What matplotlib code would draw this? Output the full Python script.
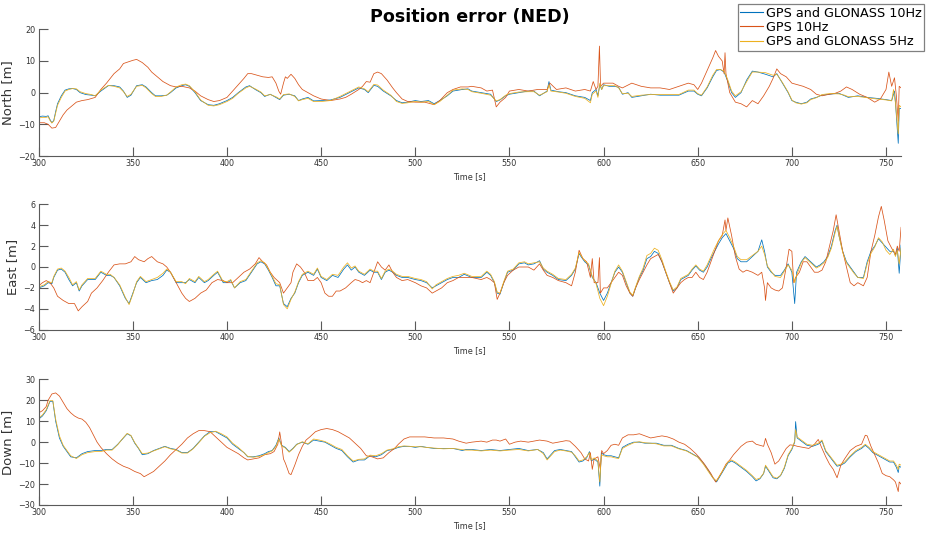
import matplotlib
matplotlib.use("Agg")
import matplotlib.pyplot as plt

# ---------------------------------------------------------------------------
# Position error samples, (time [s], error [m])
# ---------------------------------------------------------------------------
NORTH_GG10 = [(300,-7.6),(302,-7.4),(304,-7.5),(305,-7.3),(306,-8.5),(307,-9.5),(308,-8.8),(309,-6),(310,-3.5),(312,-1),(314,0.8),(316,1.2),(318,1.3),(320,1.0),(322,0),(325,-0.6),(328,-0.8),(330,-1.0),(333,0.5),(337,2.2),(340,2.2),(343,1.8),(345,0.5),(347,-1.5),(349,-0.8),(352,2.2),(355,2.5),(357,1.8),(360,0),(362,-1.0),(365,-1.0),(368,-0.8),(370,0),(373,1.5),(376,2.2),(378,2.5),(380,2.0),(383,0),(386,-2.5),(390,-3.8),(393,-4.0),(396,-3.5),(400,-2.5),(403,-1.5),(406,0),(410,1.8),(412,2.2),(415,1.0),(418,0),(420,-1.2),(423,-0.5),(426,-1.5),(428,-2.2),(430,-0.8),(433,-0.5),(436,-1.0),(438,-2.5),(440,-2.0),(443,-1.5),(446,-2.6),(450,-2.5),(455,-2.3),(460,-1.5),(465,0),(470,1.5),(473,1.0),(475,0),(478,2.3),(480,2.0),(483,0.5),(487,-1.0),(490,-2.5),(493,-3.2),(496,-3.0),(500,-2.5),(503,-2.8),(507,-2.5),(510,-3.5),(513,-2.5),(517,-1.0),(520,0.5),(525,1.0),(528,1.2),(530,0.5),(535,0),(540,-0.5),(543,-2.8),(545,-2.3),(548,-1.0),(550,-0.5),(555,0),(560,0.5),(563,0.5),(566,-1.0),(570,0.5),(571,3.5),(572,0.8),(576,0.3),(580,0),(585,-1.0),(590,-1.5),(593,-2.5),(594,0),(596,1.0),(597,-1.0),(598,2.5),(599,1.0),(600,2.5),(603,2.0),(606,2.0),(608,1.7),(610,-0.5),(613,0),(615,-1.5),(620,-1.0),(625,-0.5),(630,-0.8),(635,-0.8),(640,-0.8),(645,0.5),(648,0.5),(650,-0.5),(652,-1.0),(655,1.5),(658,5.0),(660,7.0),(662,7.3),(664,6.5),(666,3.5),(668,0),(670,-1.5),(673,0),(676,4.0),(679,6.8),(682,6.5),(686,5.8),(690,5.0),(692,6.0),(695,3.0),(698,0),(700,-2.5),(702,-3.0),(705,-3.5),(708,-3.0),(710,-2.0),(713,-1.5),(716,-0.8),(720,-0.5),(725,-0.2),(728,-1.0),(730,-1.5),(735,-1.0),(740,-1.5),(745,-1.8),(750,-2.2),(753,-2.5),(754.5,0.5),(755,-3.0),(756.5,-16.0),(757,-5.0),(758,-5.0)]

NORTH_GPS10 = [(300,-9.5),(303,-9.5),(305,-10.0),(307,-11.2),(309,-11.0),(311,-9.0),(313,-7.0),(315,-5.5),(318,-4.0),(320,-3.0),(323,-2.5),(326,-2.2),(330,-1.5),(333,1.0),(336,3.0),(340,6.0),(343,7.5),(345,9.2),(348,9.8),(350,10.2),(352,10.5),(355,9.5),(358,8.0),(360,6.5),(363,5.0),(366,3.5),(370,2.2),(373,1.8),(376,2.0),(380,1.5),(383,0.5),(386,-1.0),(390,-2.2),(393,-2.8),(396,-2.5),(400,-1.5),(403,0.5),(406,2.5),(409,4.5),(411,6.0),(413,6.0),(416,5.5),(419,5.0),(422,4.8),(424,5.0),(426,3.0),(427.5,0.5),(428.5,-0.5),(430,3.0),(431,5.0),(432,4.5),(434,5.8),(436,4.5),(438,2.5),(440,1.0),(443,0),(446,-1.0),(450,-2.0),(455,-2.5),(460,-2.0),(463,-1.5),(466,-0.5),(470,1.0),(472,2.0),(474,3.5),(476,3.3),(478,6.0),(480,6.5),(482,6.0),(485,4.0),(488,1.5),(490,0),(493,-2.0),(496,-2.8),(500,-3.0),(505,-3.0),(510,-3.8),(513,-2.5),(517,0),(520,1.0),(524,1.8),(528,1.8),(530,2.0),(535,1.5),(538,0.5),(541,0.8),(543,-4.5),(545,-3.0),(548,-1.5),(550,0.5),(555,1.0),(560,0.5),(565,1.0),(570,1.0),(571.5,3.0),(575,1.0),(580,1.5),(585,0.5),(590,1.0),(593,0.5),(594.5,3.5),(596,1.0),(597,2.0),(597.8,14.7),(598.4,2.0),(600,3.0),(605,3.0),(608,2.0),(610,1.5),(615,3.0),(620,2.0),(625,1.5),(630,1.5),(635,1.0),(640,2.0),(645,3.0),(648,2.5),(650,1.0),(652,3.0),(655,7.0),(658,11.0),(659.5,13.3),(661,11.5),(663,10.0),(664,6.0),(664.5,12.6),(665,6.0),(667,0),(670,-3.0),(673,-3.5),(676,-4.5),(679,-2.5),(682,-3.5),(685,-1.0),(688,2.0),(690,4.5),(692,7.5),(694,6.0),(697,5.0),(700,3.0),(703,2.5),(706,2.0),(710,1.0),(713,-0.5),(716,-1.0),(720,-0.5),(723,-0.2),(726,0.5),(729,1.8),(732,1.0),(736,-0.5),(740,-1.5),(744,-3.0),(747,-2.0),(750,1.0),(751.5,6.5),(753,2.0),(754.5,4.7),(755.5,-1.0),(756.5,-9.0),(757,2.0),(758,1.5)]

NORTH_GG5 = [(300,-8.0),(302,-7.8),(304,-7.8),(305,-7.6),(306,-8.8),(307,-9.6),(308,-9.0),(309,-6.5),(310,-4),(312,-1.5),(314,0.5),(316,1.0),(318,1.3),(320,1.2),(322,0.3),(325,-0.3),(328,-0.6),(330,-1.0),(333,0.8),(337,2.3),(340,2.0),(343,1.5),(345,0.3),(347,-1.2),(349,-0.5),(352,2.0),(355,2.3),(357,1.5),(360,-0.3),(362,-1.2),(365,-1.2),(368,-0.8),(370,0.2),(373,1.8),(376,2.5),(378,2.7),(380,2.2),(383,0.3),(386,-2.3),(390,-4.0),(393,-4.2),(396,-3.8),(400,-2.8),(403,-1.8),(406,-0.2),(410,1.5),(412,2.0),(415,1.2),(418,0.2),(420,-1.0),(423,-0.6),(426,-1.3),(428,-2.0),(430,-0.6),(433,-0.4),(436,-1.2),(438,-2.6),(440,-2.2),(443,-1.8),(446,-2.8),(450,-2.8),(455,-2.5),(460,-1.2),(465,0.3),(470,1.8),(473,1.2),(475,0.3),(478,2.6),(480,2.4),(483,0.8),(487,-0.8),(490,-2.8),(493,-3.4),(496,-3.2),(500,-2.8),(503,-3.0),(507,-2.8),(510,-3.8),(513,-2.8),(517,-0.8),(520,0.8),(525,1.2),(528,1.0),(530,0.3),(535,-0.2),(540,-0.8),(543,-2.6),(545,-2.2),(548,-0.8),(550,-0.3),(555,0.2),(560,0.3),(563,0.3),(566,-0.8),(570,0.3),(571,2.5),(572,0.5),(576,0.2),(580,-0.2),(585,-1.2),(590,-1.8),(593,-3.2),(594,-0.5),(596,0.5),(597,-1.5),(598,3.0),(599,1.0),(600,2.2),(603,2.2),(606,2.2),(608,1.5),(610,-0.3),(613,-0.2),(615,-1.2),(620,-0.8),(625,-0.6),(630,-0.6),(635,-0.6),(640,-0.6),(645,0.8),(648,0.8),(650,-0.3),(652,-0.8),(655,1.8),(658,5.5),(660,7.3),(662,7.3),(664,6.8),(666,4.0),(668,0.5),(670,-1.0),(673,0.3),(676,3.5),(679,6.5),(682,6.5),(686,6.3),(690,5.5),(692,5.8),(695,3.2),(698,0.2),(700,-2.3),(702,-3.2),(705,-3.6),(708,-3.2),(710,-2.2),(713,-1.6),(716,-0.6),(720,-0.3),(725,-0.4),(728,-0.8),(730,-1.3),(735,-1.2),(740,-1.6),(745,-2.0),(750,-2.3),(753,-2.6),(754,1.0),(755,-3.2),(756.5,-13.0),(757,-4.0),(758,-4.5)]

EAST_GG10 = [(300,-2.0),(303,-1.8),(305,-1.5),(307,-1.6),(308,-1.0),(310,-0.3),(312,-0.2),(314,-0.5),(316,-1.2),(318,-1.8),(320,-1.5),(321.5,-2.3),(323,-1.8),(326,-1.2),(330,-1.2),(333,-0.5),(336,-0.8),(338,-0.8),(340,-1.0),(343,-1.8),(346,-3.0),(348,-3.5),(350,-2.5),(352,-1.5),(354,-1.0),(357,-1.5),(360,-1.3),(363,-1.2),(366,-0.8),(368,-0.3),(370,-0.5),(373,-1.5),(376,-1.5),(378,-1.5),(380,-1.2),(383,-1.5),(385,-1.0),(388,-1.5),(390,-1.3),(393,-0.8),(395,-0.5),(398,-1.5),(400,-1.5),(402,-1.3),(404,-2.0),(407,-1.5),(410,-1.3),(413,-0.5),(416,0.3),(418,0.5),(420,0.3),(422,-0.3),(424,-1.0),(426,-1.8),(428,-1.8),(430,-3.5),(432,-3.8),(434,-3.0),(436,-2.5),(438,-1.5),(440,-0.8),(443,-0.5),(446,-0.8),(448,-0.2),(450,-1.0),(453,-1.3),(456,-0.8),(459,-1.0),(462,-0.2),(464,0.2),(466,-0.3),(468,0),(470,-0.5),(473,-0.8),(476,-0.3),(478,-0.5),(480,-0.5),(482,-1.2),(484,-0.5),(486,-0.3),(488,-0.5),(490,-0.8),(493,-1.0),(496,-1.0),(500,-1.2),(503,-1.3),(506,-1.5),(509,-2.0),(511,-1.8),(514,-1.5),(517,-1.2),(520,-1.0),(523,-1.0),(526,-0.7),(530,-1.0),(535,-1.0),(538,-0.5),(540,-0.8),(542,-1.5),(543.5,-2.5),(545,-2.6),(547,-1.5),(549,-0.5),(552,-0.3),(555,0.3),(558,0.4),(560,0.2),(563,0.3),(566,0.6),(568,-0.2),(570,-0.5),(573,-0.8),(576,-1.2),(580,-1.3),(583,-0.8),(585,-0.2),(587,1.3),(588,1.0),(590,0.5),(592,0.2),(594,-1.0),(596,-1.5),(598,-2.5),(600,-3.2),(602,-2.5),(604,-1.5),(606,-0.5),(608,0),(610,-0.5),(612,-1.5),(614,-2.5),(615.5,-2.8),(617,-2.0),(619,-1.0),(621,-0.3),(623,0.8),(625,1.0),(627,1.5),(629,1.3),(631,0.5),(633,-0.5),(635,-1.5),(637,-2.3),(639,-2.0),(641,-1.2),(643,-1.0),(645,-0.8),(647,-0.3),(649,0.1),(651,-0.3),(653,-0.5),(655,0),(657,0.8),(659,1.5),(661,2.2),(663,2.8),(665,3.2),(667,2.5),(669,1.8),(671,0.8),(673,0.5),(676,0.5),(679,1.0),(682,1.5),(684,2.6),(685.5,1.5),(687,0),(689,-0.5),(691,-0.8),(694,-0.8),(696,-0.3),(698,0.3),(700,-0.5),(701.5,-3.5),(702.5,-0.5),(705,0.5),(707,1.0),(710,0.5),(713,0),(715,0.2),(717,0.5),(719,1.0),(721,2.0),(723,3.5),(724,4.0),(725,3.0),(727,1.5),(729,0.5),(731,0),(733,-0.5),(735,-1.0),(738,-1.0),(740,0.5),(742,1.5),(744,2.0),(746,2.7),(748,2.3),(750,1.9),(752,1.5),(754,1.5),(755,1.1),(756,1.8),(757,-0.6),(758,2.1)]

EAST_GPS10 = [(300,-1.8),(302,-1.5),(304,-1.3),(306,-1.5),(308,-2.0),(310,-2.8),(313,-3.2),(316,-3.5),(319,-3.5),(321,-4.2),(323,-3.8),(326,-3.3),(328,-2.5),(331,-2.0),(334,-1.3),(337,-0.5),(340,0.2),(343,0.3),(346,0.3),(349,0.5),(351,1.0),(353,0.7),(356,0.5),(358,0.8),(360,1.0),(363,0.5),(366,0.3),(368,0),(370,-0.5),(373,-1.5),(376,-2.5),(378,-3.0),(380,-3.3),(383,-3.0),(386,-2.5),(389,-2.2),(392,-1.5),(395,-1.2),(398,-1.3),(400,-1.5),(403,-1.5),(406,-1.0),(409,-0.5),(412,-0.2),(415,0.3),(417,0.9),(419,0.5),(421,0.2),(423,-0.5),(425,-1.0),(428,-1.5),(430,-2.5),(432,-2.0),(434,-1.5),(435,-0.5),(437,0.3),(439,0),(441,-0.5),(443,-1.3),(446,-1.3),(448,-1.0),(450,-1.5),(452,-2.5),(454,-2.8),(456,-2.8),(458,-2.3),(460,-2.3),(463,-2.0),(466,-1.5),(468,-1.2),(470,-1.3),(472,-1.5),(474,-1.3),(476,-1.5),(478,-0.5),(480,0.5),(482,0),(484,-0.3),(486,0.2),(488,-0.5),(490,-1.0),(493,-1.3),(496,-1.2),(500,-1.5),(503,-1.8),(506,-2.0),(509,-2.5),(511,-2.3),(514,-2.0),(517,-1.5),(520,-1.3),(523,-1.0),(527,-1.0),(530,-1.0),(535,-1.2),(538,-1.0),(540,-1.2),(542,-1.5),(543.5,-3.1),(545,-2.5),(547,-1.5),(549,-0.8),(552,-0.3),(555,0),(558,0),(560,0),(563,-0.3),(566,0.3),(568,-0.3),(570,-0.8),(573,-1.0),(576,-1.3),(580,-1.5),(583,-1.8),(585,-0.5),(587,1.6),(589,0.8),(591,0.5),(593,-1.0),(594,0.8),(595,-1.5),(597,-1.5),(597.8,0.9),(598.3,-2.5),(600,-2.0),(602,-2.0),(604,-1.5),(606,-1.0),(608,-0.5),(610,-0.8),(612,-1.8),(614,-2.5),(615.5,-2.8),(617,-2.0),(619,-1.2),(621,-0.5),(623,0.2),(625,0.8),(627,1.0),(629,1.2),(631,0.5),(633,-0.5),(635,-1.5),(637,-2.5),(639,-2.0),(641,-1.5),(643,-1.2),(645,-1.0),(647,-1.0),(649,-0.5),(651,-1.0),(653,-1.2),(655,-0.5),(657,0.5),(659,1.5),(661,2.5),(663,3.0),(664.5,4.5),(665,3.5),(666,4.7),(668,3.0),(670,1.0),(672,-0.2),(674,-0.5),(676,-0.3),(679,-0.5),(682,-0.8),(684,-0.5),(685.5,-2.0),(686,-3.2),(687,-1.5),(689,-2.0),(691,-2.2),(693,-2.3),(695,-2.0),(697,0),(698.5,1.7),(700,1.5),(701,-1.5),(702,-1.0),(704,-0.5),(706,0.5),(708,0.5),(710,0),(712,-0.5),(714,-0.5),(716,-0.3),(718,0.5),(720,2.0),(722,3.5),(723.5,5.0),(725,3.5),(727,1.5),(729,0),(731,-1.5),(733,-1.8),(735,-1.5),(738,-1.8),(740,-1.0),(742,1.5),(744,3.0),(746,4.8),(747.5,5.8),(749,4.5),(751,2.5),(753,1.8),(755,1.2),(756,2.0),(757,1.5),(758,3.8)]

EAST_GG5 = [(300,-1.9),(303,-1.7),(305,-1.4),(307,-1.5),(308,-0.9),(310,-0.2),(312,-0.1),(314,-0.4),(316,-1.0),(318,-1.7),(320,-1.4),(321.5,-2.2),(323,-1.7),(326,-1.1),(330,-1.1),(333,-0.4),(336,-0.7),(338,-0.7),(340,-1.0),(343,-1.7),(346,-2.9),(348,-3.6),(350,-2.6),(352,-1.4),(354,-0.9),(357,-1.4),(360,-1.2),(363,-1.0),(366,-0.6),(368,-0.2),(370,-0.5),(373,-1.4),(376,-1.4),(378,-1.6),(380,-1.1),(383,-1.4),(385,-0.9),(388,-1.4),(390,-1.2),(393,-0.7),(395,-0.4),(398,-1.4),(400,-1.4),(402,-1.2),(404,-2.0),(407,-1.4),(410,-1.2),(413,-0.4),(416,0.4),(418,0.6),(420,0.4),(422,-0.2),(424,-0.9),(426,-1.6),(428,-1.7),(430,-3.6),(432,-4.0),(434,-3.1),(436,-2.4),(438,-1.4),(440,-0.7),(443,-0.4),(446,-0.7),(448,-0.1),(450,-0.9),(453,-1.2),(456,-0.7),(459,-0.8),(462,0),(464,0.4),(466,-0.1),(468,0.1),(470,-0.4),(473,-0.7),(476,-0.2),(478,-0.4),(480,-0.4),(482,-1.1),(484,-0.4),(486,-0.2),(488,-0.4),(490,-0.7),(493,-0.9),(496,-0.9),(500,-1.1),(503,-1.2),(506,-1.4),(509,-2.1),(511,-1.7),(514,-1.4),(517,-1.1),(520,-0.9),(523,-0.8),(526,-0.6),(530,-0.9),(535,-0.9),(538,-0.4),(540,-0.7),(542,-1.4),(543.5,-2.4),(545,-2.5),(547,-1.4),(549,-0.4),(552,-0.2),(555,0.4),(558,0.5),(560,0.3),(563,0.4),(566,0.5),(568,-0.1),(570,-0.4),(573,-0.7),(576,-1.1),(580,-1.2),(583,-0.7),(585,-0.1),(587,1.4),(588,1.1),(590,0.6),(592,0.3),(594,-0.9),(596,-1.6),(598,-3.0),(600,-3.7),(602,-2.8),(604,-1.6),(606,-0.4),(608,0.2),(610,-0.4),(612,-1.4),(614,-2.4),(615.5,-2.7),(617,-1.9),(619,-0.9),(621,-0.1),(623,1.1),(625,1.3),(627,1.8),(629,1.6),(631,0.7),(633,-0.4),(635,-1.4),(637,-2.2),(639,-1.9),(641,-1.1),(643,-0.9),(645,-0.7),(647,-0.2),(649,0.2),(651,-0.2),(653,-0.4),(655,0.2),(657,1.0),(659,1.8),(661,2.5),(663,3.1),(665,3.5),(667,2.8),(669,2.0),(671,1.0),(673,0.7),(676,0.7),(679,1.1),(682,1.5),(684,2.0),(685.5,1.2),(687,0.1),(689,-0.4),(691,-0.9),(694,-1.0),(696,-0.4),(698,0.2),(700,-0.3),(701.5,-1.5),(702.5,-0.8),(705,0.4),(707,0.9),(710,0.4),(713,-0.1),(715,0.1),(717,0.4),(719,0.9),(721,1.8),(723,3.3),(724,3.9),(725,3.0),(727,1.4),(729,0.4),(731,-0.1),(733,-0.6),(735,-1.0),(738,-1.1),(740,0.3),(742,1.3),(744,1.9),(746,2.8),(748,2.4),(750,1.6),(752,1.2),(754,1.7),(755,1.0),(756,1.6),(757,0.3),(758,1.8)]

DOWN_GG10 = [(300,11.0),(302,12.5),(304,15.0),(306,19.5),(307.5,19.5),(309,10.0),(311,2.0),(313,-2.0),(315,-4.5),(317,-7.0),(320,-7.5),(323,-5.5),(326,-4.5),(330,-4.0),(333,-4.0),(336,-3.5),(339,-3.5),(342,-1.0),(345,2.0),(347,4.0),(349,3.0),(351,-0.5),(353,-3.0),(355,-6.0),(358,-5.5),(361,-4.0),(364,-3.0),(367,-2.0),(370,-3.0),(373,-3.5),(376,-5.0),(379,-5.0),(382,-3.0),(385,0),(388,3.0),(391,5.0),(394,5.0),(397,3.5),(400,2.0),(403,-1.0),(406,-3.0),(409,-5.0),(411,-7.0),(414,-7.0),(417,-6.5),(420,-5.5),(422,-4.5),(424,-4.0),(426,-1.5),(427.5,2.0),(429,-1.5),(431,-2.5),(433,-4.5),(435,-3.0),(437,-1.0),(440,0),(443,-1.0),(446,1.0),(449,0.5),(452,0),(455,-1.5),(458,-3.0),(461,-4.0),(464,-7.0),(467,-9.5),(470,-8.5),(473,-8.5),(476,-6.5),(479,-7.0),(482,-6.0),(485,-4.0),(488,-3.5),(491,-2.5),(494,-2.0),(497,-2.0),(500,-2.5),(503,-2.0),(506,-2.5),(510,-3.0),(515,-3.0),(520,-3.0),(525,-4.0),(527,-3.5),(530,-3.5),(535,-4.0),(540,-3.5),(545,-4.0),(550,-3.5),(555,-3.0),(560,-4.0),(565,-3.5),(568,-5.0),(570,-8.0),(572,-6.0),(574,-4.0),(577,-3.5),(580,-4.0),(583,-4.5),(585,-7.0),(587,-9.5),(589,-9.0),(591,-7.5),(592.5,-4.5),(593.5,-9.0),(595,-8.0),(597,-9.5),(598,-21.0),(598.8,-5.0),(600,-6.0),(602,-6.5),(604,-6.5),(606,-7.0),(608,-7.5),(610,-2.5),(613,-1.0),(616,0),(619,0),(622,-0.5),(625,-0.5),(628,-0.5),(632,-1.5),(636,-1.5),(640,-3.0),(644,-4.0),(648,-6.0),(650,-7.0),(653,-10.0),(656,-14.0),(658,-17.0),(660,-19.0),(662,-16.0),(664,-13.0),(666,-10.0),(668,-9.0),(670,-10.0),(673,-12.0),(676,-14.0),(679,-16.5),(681,-18.5),(683,-17.5),(685,-15.0),(686,-11.5),(687.5,-13.5),(690,-17.0),(692,-17.5),(694,-16.0),(696,-12.5),(698,-6.5),(700,-3.5),(701.5,0),(702,9.8),(702.8,2.0),(705,0.5),(708,-1.5),(711,-2.0),(714,-1.0),(716,0.5),(718,-4.5),(721,-8.0),(724,-11.5),(726,-11.0),(728,-10.0),(731,-7.0),(734,-4.5),(737,-3.0),(739,-1.5),(741,-3.0),(743,-5.0),(746,-6.5),(749,-8.0),(752,-9.5),(754,-9.5),(755.5,-12.0),(756.5,-14.5),(757,-11.5),(758,-12.0)]

DOWN_GPS10 = [(300,14.0),(302,15.0),(304,17.0),(305,20.0),(307,23.0),(309,23.5),(311,22.0),(313,19.0),(315,16.0),(317,14.0),(319,12.5),(321,11.5),(323,11.0),(325,9.5),(327,7.0),(329,3.5),(331,0),(333,-2.5),(336,-5.5),(339,-8.0),(342,-10.0),(345,-11.5),(348,-12.5),(351,-14.0),(354,-15.0),(356,-16.5),(358,-15.5),(361,-14.0),(364,-11.5),(367,-9.0),(370,-6.0),(373,-3.5),(376,-1.0),(379,2.0),(382,4.0),(385,5.5),(388,5.5),(391,5.0),(394,2.5),(397,0),(400,-2.5),(403,-4.0),(406,-5.5),(409,-7.5),(411,-8.5),(414,-8.0),(417,-7.5),(420,-6.0),(423,-5.5),(425,-4.5),(427,-1.0),(428,4.9),(429,-1.0),(430,-8.0),(431,-10.0),(433,-15.0),(434,-15.5),(436,-11.0),(438,-6.0),(440,-2.0),(442,1.0),(444,2.5),(447,5.0),(450,6.0),(453,6.5),(456,6.0),(459,5.0),(462,3.5),(465,2.0),(468,-0.5),(471,-3.0),(474,-6.5),(477,-7.0),(480,-8.0),(483,-7.5),(486,-5.0),(489,-3.0),(491,-1.0),(494,1.5),(497,2.5),(500,2.5),(505,2.5),(510,2.0),(515,2.0),(520,1.5),(523,0.5),(527,-0.5),(530,0),(535,0.5),(538,0),(541,1.0),(543,1.0),(545,0.5),(548,1.5),(550,-1.0),(553,0),(556,0.5),(560,0),(563,0.5),(566,1.0),(570,0.5),(573,-0.5),(576,0),(580,0.7),(582,0.5),(585,-2.0),(588,-5.0),(590,-8.0),(592,-9.0),(593,-5.0),(594,-13.0),(595,-8.0),(597,-7.0),(598.3,-13.0),(599,-4.0),(600,-5.5),(602,-4.0),(604,-1.5),(606,-1.0),(608,-1.5),(610,2.0),(613,3.5),(616,3.5),(619,4.0),(622,3.0),(625,2.0),(628,2.5),(631,3.0),(634,2.5),(637,1.5),(640,0),(643,-1.0),(646,-3.0),(649,-5.5),(651,-7.5),(654,-11.0),(657,-15.0),(659.5,-19.0),(661,-17.0),(663,-14.0),(665,-10.5),(667,-8.5),(669,-6.0),(671,-4.0),(673,-2.0),(676,0),(679,0.5),(681,-1.0),(683,-1.5),(685,-2.0),(686,1.8),(687,-1.0),(689,-5.0),(691,-10.5),(693,-9.0),(695,-6.0),(697,-3.0),(699,-1.3),(701,-1.5),(703,-2.0),(706,-2.5),(709,-3.0),(712,-1.0),(714,1.3),(716,-3.0),(718,-7.0),(720,-10.5),(722,-13.0),(724,-17.0),(726,-11.0),(728,-8.0),(731,-4.0),(734,-2.0),(737,-1.0),(739,3.3),(740,3.0),(742,-2.0),(744,-6.0),(746,-10.0),(748,-14.9),(750,-16.0),(752,-16.5),(754,-18.0),(755,-19.0),(756.5,-23.6),(757,-19.0),(758,-20.0)]

DOWN_GG5 = [(300,11.5),(302,13.0),(304,15.5),(306,19.8),(307.5,19.8),(309,11.0),(311,3.0),(313,-1.5),(315,-4.0),(317,-6.5),(320,-7.8),(323,-6.0),(326,-5.0),(330,-4.5),(333,-4.5),(336,-3.8),(339,-3.8),(342,-1.2),(345,2.2),(347,4.2),(349,3.2),(351,-0.2),(353,-2.8),(355,-5.5),(358,-5.2),(361,-4.2),(364,-3.2),(367,-2.2),(370,-3.2),(373,-3.8),(376,-5.2),(379,-5.2),(382,-3.2),(385,-0.3),(388,2.8),(391,4.5),(394,5.2),(397,4.0),(400,2.5),(403,-0.5),(406,-2.5),(409,-5.0),(411,-6.8),(414,-7.2),(417,-6.8),(420,-6.0),(422,-5.0),(424,-4.2),(426,-2.0),(427.5,1.5),(429,-1.8),(431,-2.8),(433,-4.8),(435,-3.2),(437,-1.2),(440,0.2),(443,-0.8),(446,1.5),(449,1.0),(452,0.3),(455,-1.0),(458,-2.5),(461,-3.5),(464,-6.5),(467,-9.0),(470,-8.2),(473,-8.0),(476,-6.2),(479,-6.5),(482,-5.5),(485,-3.8),(488,-3.2),(491,-2.2),(494,-1.8),(497,-2.0),(500,-2.2),(503,-2.2),(506,-2.5),(510,-2.8),(515,-3.2),(520,-3.0),(525,-3.6),(527,-3.8),(530,-3.8),(535,-4.2),(540,-3.8),(545,-4.2),(550,-3.8),(555,-3.5),(560,-4.2),(565,-3.5),(568,-5.5),(570,-8.5),(572,-6.5),(574,-4.5),(577,-3.8),(580,-4.2),(583,-4.8),(585,-6.5),(587,-9.0),(589,-8.5),(591,-7.0),(592.5,-5.0),(593.5,-8.5),(595,-7.5),(597,-9.0),(598,-19.0),(598.8,-6.0),(600,-6.5),(602,-7.0),(604,-7.0),(606,-7.5),(608,-7.8),(610,-3.0),(613,-1.5),(616,-0.3),(619,0.2),(622,-0.3),(625,-0.5),(628,-0.8),(632,-1.8),(636,-1.8),(640,-3.2),(644,-4.2),(648,-6.2),(650,-7.2),(653,-10.5),(656,-14.5),(658,-17.0),(660,-18.5),(662,-15.5),(664,-12.5),(666,-9.5),(668,-8.5),(670,-9.5),(673,-11.5),(676,-13.5),(679,-16.0),(681,-17.8),(683,-17.2),(685,-14.8),(686,-11.0),(687.5,-13.0),(690,-16.5),(692,-17.2),(694,-15.8),(696,-12.0),(698,-6.0),(700,-3.0),(701.5,0.5),(702,6.0),(702.8,2.5),(705,1.0),(708,-1.0),(711,-1.5),(714,-0.5),(716,1.0),(718,-4.0),(721,-7.5),(724,-11.0),(726,-10.5),(728,-9.5),(731,-6.5),(734,-4.0),(737,-2.5),(739,-1.0),(741,-2.5),(743,-4.5),(746,-6.0),(749,-7.5),(752,-9.0),(754,-9.0),(755.5,-11.0),(756.5,-13.0),(757,-10.5),(758,-11.0)]

SERIES_LABELS = ["GPS and GLONASS 10Hz", "GPS 10Hz", "GPS and GLONASS 5Hz"]
SERIES_COLORS = ["#0072BD", "#D95319", "#EDB120"]

PANELS = [
    ("North [m]", [NORTH_GG10, NORTH_GPS10, NORTH_GG5], (-20, 20), [-20, -10, 0, 10, 20]),
    ("East [m]", [EAST_GG10, EAST_GPS10, EAST_GG5], (-6, 6), [-6, -4, -2, 0, 2, 4, 6]),
    ("Down [m]", [DOWN_GG10, DOWN_GPS10, DOWN_GG5], (-30, 30), [-30, -20, -10, 0, 10, 20, 30]),
]
TIME_TICKS = [300, 350, 400, 450, 500, 550, 600, 650, 700, 750]
TIME_RANGE = (300, 757.8)

W, H = 927, 534
fig = plt.figure(figsize=(W / 100, H / 100), dpi=100)
plt.rcParams["font.family"] = "DejaVu Sans"

AX_COLOR = "#5a5a5a"
# (top, bottom) of each panel in pixels
panel_px = [(29.3, 156.0), (204.3, 329.7), (379.3, 505.0)]
left_px, right_px = 38.7, 900.7

handles = []
for (ylabel, series, ylim, yticks), (top, bot) in zip(PANELS, panel_px):
    ax = fig.add_axes([left_px / W, 1 - bot / H, (right_px - left_px) / W, (bot - top) / H])
    for data, color, label in zip(series, SERIES_COLORS, SERIES_LABELS):
        t = [p[0] for p in data]
        v = [p[1] for p in data]
        line, = ax.plot(t, v, color=color, lw=0.55, label=label)
        if len(handles) < 3:
            handles.append(line)
    ax.set_xlim(*TIME_RANGE)
    ax.set_ylim(*ylim)
    ax.set_xticks(TIME_TICKS)
    ax.set_yticks(yticks)
    for side in ("top", "right"):
        ax.spines[side].set_visible(False)
    for side in ("left", "bottom"):
        ax.spines[side].set_color(AX_COLOR)
        ax.spines[side].set_linewidth(0.8)
    ax.tick_params(direction="in", length=6.5, width=0.8, color=AX_COLOR,
                   labelcolor="#333333", labelsize=5.8, pad=2.5)
    ax.set_xlabel("Time [s]", fontsize=5.8, color="#333333", labelpad=2.5)
    ax.set_ylabel(ylabel, fontsize=9.5, color="#333333", labelpad=3)
    ax.patch.set_alpha(0)

fig.text((left_px + right_px) / 2 / W, 1 - 17 / H, "Position error (NED)",
         ha="center", va="center", fontsize=12.6, fontweight="bold")

leg = fig.legend(handles, SERIES_LABELS, loc="upper right",
                 bbox_to_anchor=(924 / W, 1 - 4 / H), borderaxespad=0,
                 fontsize=9.2, frameon=True, fancybox=False, framealpha=1,
                 edgecolor="#808080", borderpad=0.2, labelspacing=0.1,
                 handlelength=1.8, handletextpad=0.2)
leg.get_frame().set_linewidth(0.9)
for lh in leg.get_lines():
    lh.set_linewidth(0.8)

fig.savefig("out.png", dpi=100)
